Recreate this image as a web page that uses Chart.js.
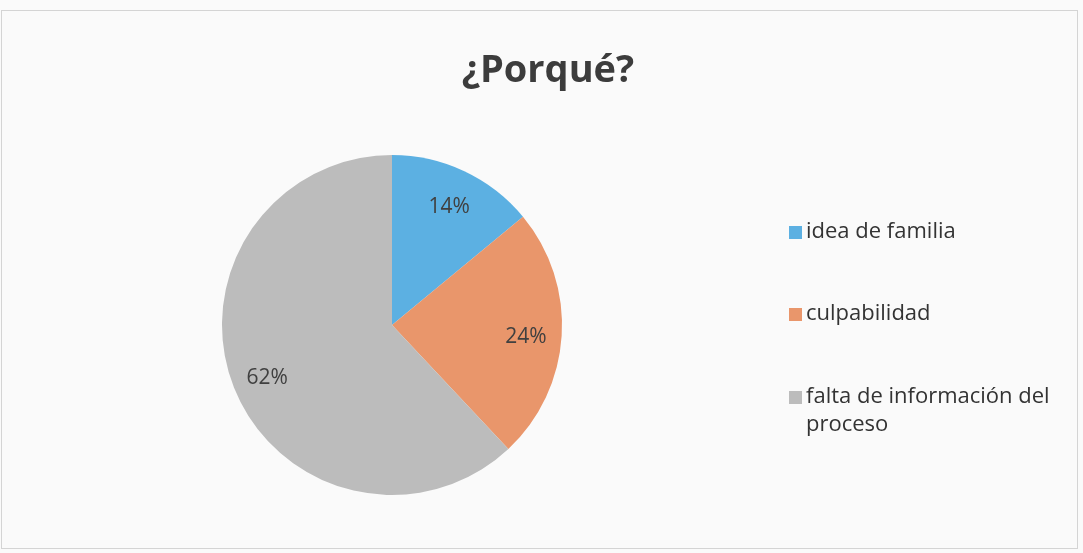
<!DOCTYPE html>
<html>
<head>
<meta charset="utf-8">
<script src="https://cdn.jsdelivr.net/npm/chart.js@4.4.0/dist/chart.umd.min.js"></script>
<style>
  html, body { margin: 0; padding: 0; background: #fafafa; }
  #wrap { width: 1083px; height: 553px; position: relative; }
</style>
</head>
<body>
<div id="wrap"><canvas id="myChart" width="1083" height="553"></canvas></div>
<script>
var titulo = "¿Porqué?";
var categorias = ["idea de familia", "culpabilidad", "falta de información del proceso"];
var leyenda = [["idea de familia"], ["culpabilidad"], ["falta de información del", "proceso"]];
var valores = [14, 24, 62];
var colores = ["#5cb0e2", "#e9966b", "#bcbcbc"];

// dibuja titulo, etiquetas de porcentaje, leyenda y marco
var extras = {
    id: "extras",
    afterDatasetsDraw: function (chart) {
        var ctx = chart.ctx;
        ctx.save();
        // marco
        ctx.strokeStyle = "#d4d4d4";
        ctx.lineWidth = 1;
        ctx.strokeRect(1.5, 10.5, 1076, 538);
        // titulo
        ctx.fillStyle = "#3c3c3c";
        ctx.font = "bold 38px 'Open Sans', sans-serif";
        ctx.textAlign = "center";
        ctx.textBaseline = "middle";
        ctx.fillText(titulo, 548, 71);
        // etiquetas
        var meta = chart.getDatasetMeta(0);
        var total = valores.reduce(function (a, b) { return a + b; }, 0);
        ctx.font = "21px 'Open Sans', sans-serif";
        ctx.fillStyle = "#404040";
        meta.data.forEach(function (arc, i) {
            var mid = (arc.startAngle + arc.endAngle) / 2;
            var r = arc.outerRadius * 0.79;
            var x = arc.x + Math.cos(mid) * r;
            var y = arc.y + Math.sin(mid) * r + 4;
            ctx.fillText(Math.round(valores[i] / total * 100) + "%", x, y);
        });
        // leyenda
        var ys = [232, 314, 397];
        ctx.textAlign = "left";
        ctx.font = "22px 'Open Sans', sans-serif";
        leyenda.forEach(function (lineas, i) {
            ctx.fillStyle = colores[i];
            ctx.fillRect(789, ys[i] - 6, 13, 13);
            ctx.fillStyle = "#333333";
            lineas.forEach(function (t, k) {
                ctx.fillText(t, 806, ys[i] + k * 28);
            });
        });
        ctx.restore();
    }
};

new Chart("myChart", {
    type: "pie",
    data: {
        labels: categorias,
        datasets: [{
            data: valores,
            backgroundColor: colores,
            borderWidth: 0
        }]
    },
    options: {
        responsive: false,
        animation: false,
        layout: { padding: { left: 222, right: 521, top: 155, bottom: 58 } },
        plugins: {
            legend: { display: false },
            tooltip: { enabled: false }
        }
    },
    plugins: [extras]
});
</script>
</body>
</html>
